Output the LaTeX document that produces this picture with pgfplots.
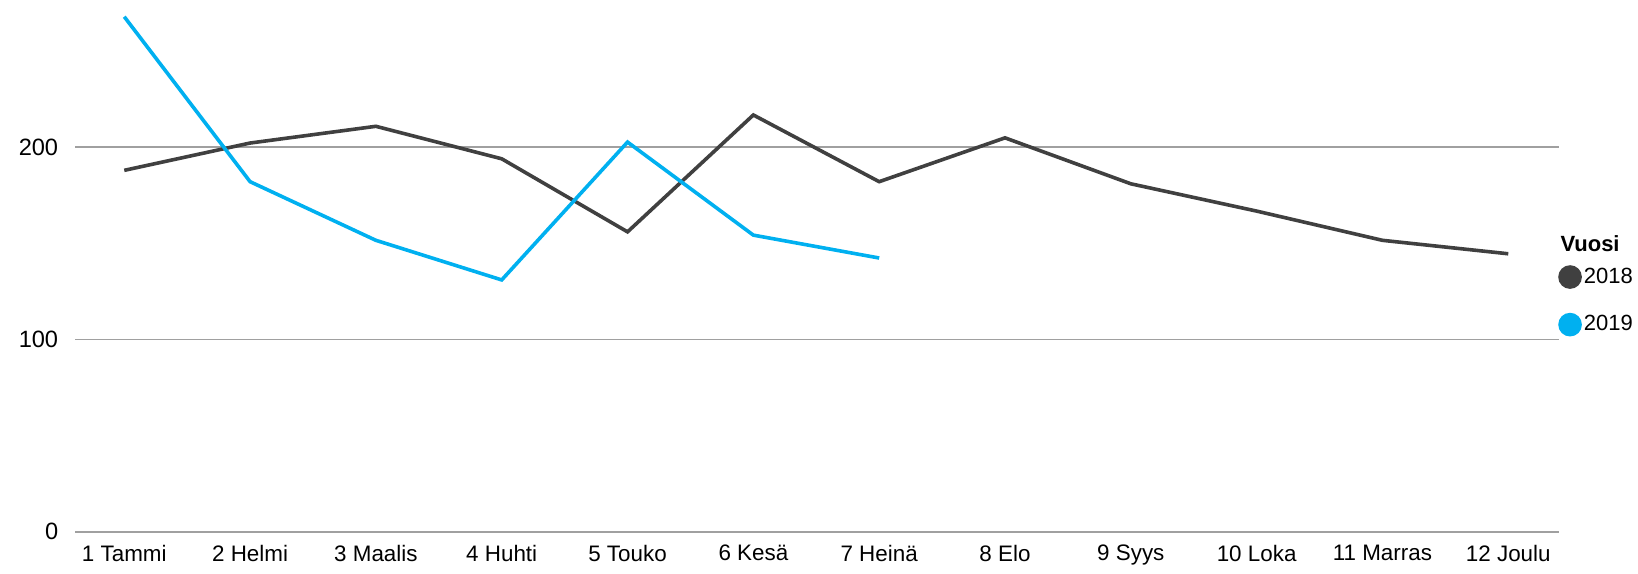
\documentclass[border=0pt]{standalone}
\usepackage{fontspec}
\setmainfont{Liberation Sans}
\usepackage{pgfplots}
\pgfplotsset{compat=1.18}
\definecolor{c2018}{HTML}{404040}
\definecolor{c2019}{HTML}{00B0F0}
\definecolor{gridc}{HTML}{A0A0A0}
\begin{document}
\begin{tikzpicture}
\begin{axis}[
  scale only axis,
  width=741.7pt, height=265.9pt,
  xmin=0.61, xmax=12.4,
  ymin=0, ymax=276.6,
  xtick={1,...,12},
  xticklabels={1 Tammi,2 Helmi,3 Maalis,4 Huhti,5 Touko,6 Kesä,7 Heinä,8 Elo,9 Syys,10 Loka,11 Marras,12 Joulu},
  ytick={0,100,200},
  axis line style={draw=none},
  major tick length=0pt,
  ymajorgrids,
  grid style={color=gridc, line width=0.9pt},
  xticklabel style={yshift=-3pt, font=\fontsize{11.2}{13}\selectfont},
  yticklabel style={xshift=-5pt, font=\fontsize{11.8}{13}\selectfont},
  /pgf/number format/assume math mode=true,
  clip=false,
  legend style={at={(0.9995,0.5020)}, anchor=north west, draw=none, fill=none,
    inner sep=0pt, row sep=12pt, font=\fontsize{11}{12}\selectfont,
    nodes={inner xsep=1pt, inner ysep=0pt}},
  legend cell align=left,
]
\addplot[c2018, line width=1.8pt, legend image code/.code={\fill[c2018] (5pt,0pt) circle (5pt);}] coordinates {
(1,188.0) (2,202.2) (3,210.9) (4,194.0) (5,156.0) (6,216.8)
(7,182.1) (8,204.9) (9,181.0) (10,166.8) (11,151.6) (12,144.6)};
\addlegendentry{2018}
\addplot[c2019, line width=1.8pt, legend image code/.code={\fill[c2019] (5pt,0pt) circle (5pt);}] coordinates {
(1,267.9) (2,182.1) (3,151.6) (4,131.0) (5,202.7) (6,154.3) (7,142.4)};
\addlegendentry{2019}
\node[anchor=west, inner sep=0pt, font=\fontsize{11}{12}\selectfont\bfseries] at (rel axis cs:1.001,0.5423) {Vuosi};
\end{axis}
\pgfresetboundingbox
\path (-37.6pt,-20.6pt) rectangle (781.4pt,265.9pt);
\end{tikzpicture}
\end{document}
